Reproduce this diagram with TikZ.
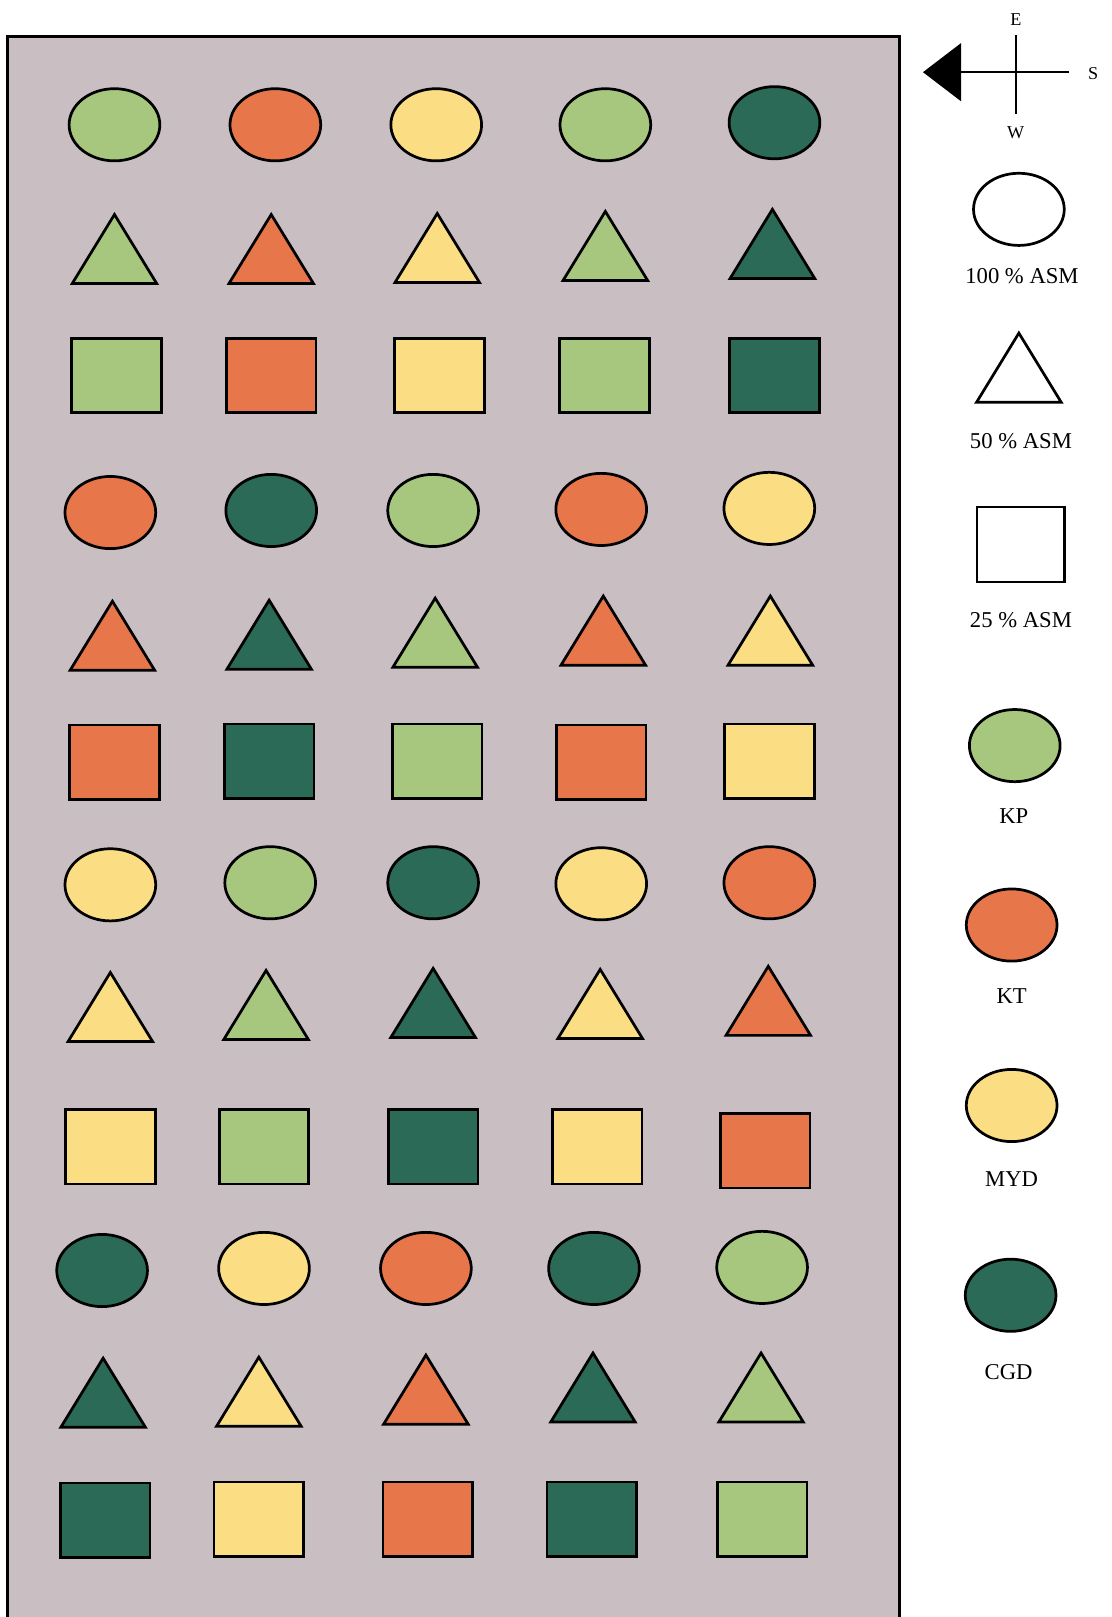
\documentclass[tikz,border=0pt]{standalone}
\usepackage{fontspec}
\setmainfont{Liberation Serif}
\usepackage{tikz}
\usetikzlibrary{arrows.meta,shapes.geometric}
\definecolor{cKP}{HTML}{A6C77D}
\definecolor{cKT}{HTML}{E8764B}
\definecolor{cMYD}{HTML}{FBDE83}
\definecolor{cCGD}{HTML}{2B6A56}
\definecolor{cPanel}{HTML}{C9BEC2}

\begin{document}
\begin{tikzpicture}[
  x=0.02cm,y=-0.02cm,
  shp/.style={draw=black,line width=1.5pt,inner sep=0pt,outer sep=0pt},
  oval/.style={shp,ellipse,minimum width=1.76cm,minimum height=1.40cm},
  tri/.style={shp,isosceles triangle,isosceles triangle stretches,shape border rotate=90,minimum width=1.64cm,minimum height=1.34cm,anchor=apex},
  box/.style={shp,rectangle,minimum width=1.74cm,minimum height=1.44cm},
  lbl/.style={font=\fontsize{12.5}{14}\selectfont},
  dir/.style={font=\fontsize{10}{12}\selectfont},
  arr/.style={line width=1.4pt,-{Triangle[length=0.74cm,width=1.12cm]}}
]
\useasboundingbox (0,0) rectangle (1078,1568);
\fill[cPanel] (7,1568) -- (7,35) -- (872,35) -- (872,1568) -- cycle;
\draw[line width=1.6pt] (7,1568) -- (7,35) -- (872,35) -- (872,1568);

% row 1
\node[oval,fill=cKP]  (e11) at (111,121) {};
\node[oval,fill=cKT]  (e12) at (267,121) {};
\node[oval,fill=cMYD] (e13) at (423,121) {};
\node[oval,fill=cKP]  (e14) at (587,121) {};
\node[oval,fill=cCGD] (e15) at (751,119) {};
% row 2
\node[tri,fill=cKP]  (t21) at (111,208) {};
\node[tri,fill=cKT]  (t22) at (263,208) {};
\node[tri,fill=cMYD] (t23) at (424,207) {};
\node[tri,fill=cKP]  (t24) at (587,205) {};
\node[tri,fill=cCGD] (t25) at (749,203) {};
% row 3
\node[box,fill=cKP]  (b31) at (113,364) {};
\node[box,fill=cKT]  (b32) at (263,364) {};
\node[box,fill=cMYD] (b33) at (426,364) {};
\node[box,fill=cKP]  (b34) at (586,364) {};
\node[box,fill=cCGD] (b35) at (751,364) {};
% row 4
\node[oval,fill=cKT]  (e41) at (107,497) {};
\node[oval,fill=cCGD] (e42) at (263,495) {};
\node[oval,fill=cKP]  (e43) at (420,495) {};
\node[oval,fill=cKT]  (e44) at (583,494) {};
\node[oval,fill=cMYD] (e45) at (746,493) {};
% row 5
\node[tri,fill=cKT]  (t51) at (109,583) {};
\node[tri,fill=cCGD] (t52) at (261,582) {};
\node[tri,fill=cKP]  (t53) at (422,580) {};
\node[tri,fill=cKT]  (t54) at (585,578) {};
\node[tri,fill=cMYD] (t55) at (747,578) {};
% row 6
\node[box,fill=cKT]  (b61) at (111,739) {};
\node[box,fill=cCGD] (b62) at (261,738) {};
\node[box,fill=cKP]  (b63) at (424,738) {};
\node[box,fill=cKT]  (b64) at (583,739) {};
\node[box,fill=cMYD] (b65) at (746,738) {};
% row 7
\node[oval,fill=cMYD] (e71) at (107,858) {};
\node[oval,fill=cKP]  (e72) at (262,856) {};
\node[oval,fill=cCGD] (e73) at (420,856) {};
\node[oval,fill=cMYD] (e74) at (583,857) {};
\node[oval,fill=cKT]  (e75) at (746,856) {};
% row 8
\node[tri,fill=cMYD] (t81) at (107,943) {};
\node[tri,fill=cKP]  (t82) at (258,941) {};
\node[tri,fill=cCGD] (t83) at (420,939) {};
\node[tri,fill=cMYD] (t84) at (582,940) {};
\node[tri,fill=cKT]  (t85) at (745,937) {};
% row 9
\node[box,fill=cMYD] (b91) at (107,1112) {};
\node[box,fill=cKP]  (b92) at (256,1112) {};
\node[box,fill=cCGD] (b93) at (420,1112) {};
\node[box,fill=cMYD] (b94) at (579,1112) {};
\node[box,fill=cKT]  (b95) at (742,1116) {};
% row 10
\node[oval,fill=cCGD] (e101) at (99,1232) {};
\node[oval,fill=cMYD] (e102) at (256,1230) {};
\node[oval,fill=cKT]  (e103) at (413,1230) {};
\node[oval,fill=cCGD] (e104) at (576,1230) {};
\node[oval,fill=cKP]  (e105) at (739,1229) {};
% row 11
\node[tri,fill=cCGD] (t111) at (100,1317) {};
\node[tri,fill=cMYD] (t112) at (251,1316) {};
\node[tri,fill=cKT]  (t113) at (413,1314) {};
\node[tri,fill=cCGD] (t114) at (575,1312) {};
\node[tri,fill=cKP]  (t115) at (738,1312) {};
% row 12
\node[box,fill=cCGD] (b121) at (102,1474) {};
\node[box,fill=cMYD] (b122) at (251,1473) {};
\node[box,fill=cKT]  (b123) at (415,1473) {};
\node[box,fill=cCGD] (b124) at (574,1473) {};
\node[box,fill=cKP]  (b125) at (739,1473) {};

% compass
\coordinate (cE) at (985,34);
\coordinate (cW) at (985,111);
\coordinate (cS) at (1037,70);
\coordinate (cN) at (895,70);
\draw[line width=1.4pt] (cE) -- (cW);
\draw[arr] (cS) -- (cN);
\node[dir] (lE) at (985,19) {E};
\node[dir] (lS) at (1060,71) {S};
\node[dir] (lW) at (985,129) {W};

% legend
\node[oval,fill=white] (kFull) at (988,203) {};
\node[lbl] (tFull) at (991,268) {100 \% ASM};
\node[tri,fill=white] (kHalf) at (988,323) {};
\node[lbl] (tHalf) at (990,428) {50 \% ASM};
\node[box,fill=white,minimum width=1.70cm,minimum height=1.46cm] (kQuart) at (990,528) {};
\node[lbl] (tQuart) at (990,601) {25 \% ASM};
\node[oval,fill=cKP] (kKP) at (984,723) {};
\node[lbl] (tKP) at (983,791) {KP};
\node[oval,fill=cKT] (kKT) at (981,897) {};
\node[lbl] (tKT) at (981,966) {KT};
\node[oval,fill=cMYD] (kMYD) at (981,1072) {};
\node[lbl] (tMYD) at (981,1143) {MYD};
\node[oval,fill=cCGD] (kCGD) at (980,1256) {};
\node[lbl] (tCGD) at (978,1331) {CGD};
\end{tikzpicture}
\end{document}
